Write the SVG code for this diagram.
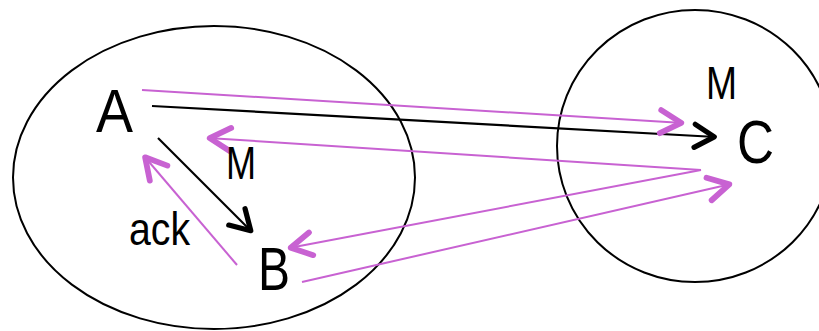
<svg xmlns="http://www.w3.org/2000/svg" width="819" height="331" viewBox="0 0 819 331">
<style>
.big{font-family:"Liberation Sans",Arial,sans-serif;font-size:62px;fill:#000}
.lbl{font-family:"Liberation Sans",Arial,sans-serif;font-size:47px;fill:#000}
.blk{stroke:#000;stroke-width:2.2;fill:none}
.mag{stroke:#c862d2;stroke-width:2;fill:none}
.shape{fill:none;stroke:#000;stroke-width:2}
</style>
<defs>
<marker id="hb" markerUnits="userSpaceOnUse" markerWidth="30" markerHeight="30" viewBox="-22 -12 26 24" refX="1.5" refY="0" orient="auto" overflow="visible">
<path d="M-17,-10 L0,0 L-17,10" fill="none" stroke="#000" stroke-width="4.5" stroke-linecap="round" stroke-linejoin="round"/>
</marker>
<marker id="hm" markerUnits="userSpaceOnUse" markerWidth="30" markerHeight="30" viewBox="-22 -12 26 24" refX="1.5" refY="0" orient="auto" overflow="visible">
<path d="M-18,-10 L0,0 L-18,10" fill="none" stroke="#c862d2" stroke-width="5" stroke-linecap="round" stroke-linejoin="round"/>
</marker>
</defs>
<rect width="819" height="331" fill="#fff"/>
<g id="group-left">
<ellipse class="shape" cx="214" cy="177.5" rx="201" ry="151.5"/>
</g>
<g id="group-right">
<ellipse class="shape" cx="695" cy="146" rx="138" ry="136"/>
</g>
<g id="node-A"><text class="big" x="96" y="132" textLength="37" lengthAdjust="spacingAndGlyphs">A</text></g>
<g id="node-B"><text class="big" x="258" y="290" textLength="32" lengthAdjust="spacingAndGlyphs">B</text></g>
<g id="node-C"><text class="big" x="737" y="163" textLength="37" lengthAdjust="spacingAndGlyphs">C</text></g>
<g id="connectors">
<line class="blk" x1="152" y1="106" x2="716" y2="137" marker-end="url(#hb)"/>
<line class="blk" x1="158" y1="138" x2="252" y2="232" marker-end="url(#hb)"/>
<line class="mag" x1="142" y1="90" x2="683" y2="123" marker-end="url(#hm)"/>
<line class="mag" x1="701" y1="170" x2="208" y2="138" marker-end="url(#hm)"/>
<line class="mag" x1="701" y1="170" x2="289" y2="248" marker-end="url(#hm)"/>
<line class="mag" x1="302" y1="282" x2="731" y2="184" marker-end="url(#hm)"/>
<line class="mag" x1="237" y1="265" x2="144" y2="156" marker-end="url(#hm)"/>
</g>
<g id="labels">
<text class="lbl" x="226" y="179" textLength="30" lengthAdjust="spacingAndGlyphs">M</text>
<text class="lbl" x="706" y="99" textLength="31" lengthAdjust="spacingAndGlyphs">M</text>
<text class="lbl" x="129" y="245" textLength="61" lengthAdjust="spacingAndGlyphs">ack</text>
</g>
</svg>
